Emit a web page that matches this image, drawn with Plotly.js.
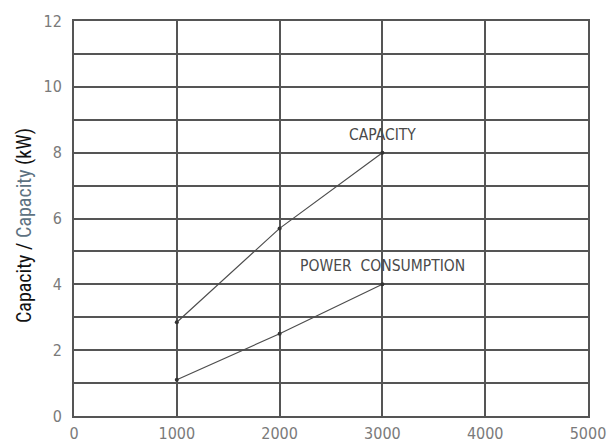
<!DOCTYPE html>
<html>
<head>
<meta charset="utf-8">
<script src="https://cdn.plot.ly/plotly-3.0.1.min.js"></script>
<style>html,body{margin:0;padding:0;background:#fff;}#chart{width:611px;height:444px;}</style>
</head>
<body>
<div id="chart"></div>
<script>
// Data
const speed = [1000, 2000, 3000];
const capacity = [2.85, 5.7, 8.0];
const powerConsumption = [1.1, 2.5, 4.0];
const xTickVals = [0, 1000, 2000, 3000, 4000, 5000];
const xTickText = ['0', '1000', '2000', '3000', '4000', '5000'];
const yTickVals = [0, 1, 2, 3, 4, 5, 6, 7, 8, 9, 10, 11, 12];
const yTickText = ['0', '', '2', '', '4', '', '6', '', '8', '', '10', '', '12'];
const seriesLabels = ['CAPACITY', 'POWER  CONSUMPTION'];

const gridCol = '#555555';
const lineCol = '#4d4d4d';
const tickFont = {family: 'DejaVu Sans Condensed, DejaVu Sans', size: 16, color: '#7a7a7a'};
const labelFont = {family: 'DejaVu Sans Condensed, DejaVu Sans', size: 15.5, color: '#4a4a4a'};

const traces = [
  {x: speed, y: capacity, mode: 'lines+markers', line: {color: lineCol, width: 1.2}, marker: {size: 4, color: '#333'}, hoverinfo: 'skip'},
  {x: speed, y: powerConsumption, mode: 'lines+markers', line: {color: lineCol, width: 1.2}, marker: {size: 4, color: '#333'}, hoverinfo: 'skip'}
];

const layout = {
  width: 611, height: 444,
  margin: {l: 74, r: 23, t: 21, b: 28},
  showlegend: false,
  paper_bgcolor: '#fff', plot_bgcolor: '#fff',
  xaxis: {
    range: [0, 5000], tickvals: xTickVals, ticktext: xTickText,
    showgrid: true, gridcolor: gridCol, gridwidth: 2,
    showline: true, linecolor: gridCol, linewidth: 2, mirror: true,
    zeroline: false, ticks: '', tickfont: tickFont, ticklabelstandoff: 2
  },
  yaxis: {
    range: [0, 12], tickvals: yTickVals, ticktext: yTickText,
    showgrid: true, gridcolor: gridCol, gridwidth: 2,
    showline: true, linecolor: gridCol, linewidth: 2, mirror: true,
    zeroline: false, ticks: '', tickfont: tickFont, ticklabelstandoff: 7
  },
  annotations: [
    {x: speed[2], y: capacity[2], xref: 'x', yref: 'y', text: seriesLabels[0], showarrow: false,
     yshift: 18, font: labelFont},
    {x: speed[2], y: powerConsumption[2], xref: 'x', yref: 'y', text: seriesLabels[1], showarrow: false,
     yshift: 18, font: labelFont},
    {x: 0, y: 0, xref: 'paper', yref: 'paper', text: 'Capacity / <span style="color:#5d7282">Capacity</span> (kW)',
     showarrow: false, textangle: -90, xanchor: 'center', yanchor: 'middle',
     font: {family: 'Roboto Condensed, Liberation Sans Narrow, Roboto', size: 20, color: '#111111'}}
  ]
};
// place the y-title in pixel space (centre x=24, y=226)
layout.annotations[2].x = (24 - 74) / (611 - 74 - 23);
layout.annotations[2].y = (444 - 28 - 226) / (444 - 21 - 28);

Plotly.newPlot('chart', traces, layout, {displayModeBar: false, staticPlot: true});
</script>
</body>
</html>
